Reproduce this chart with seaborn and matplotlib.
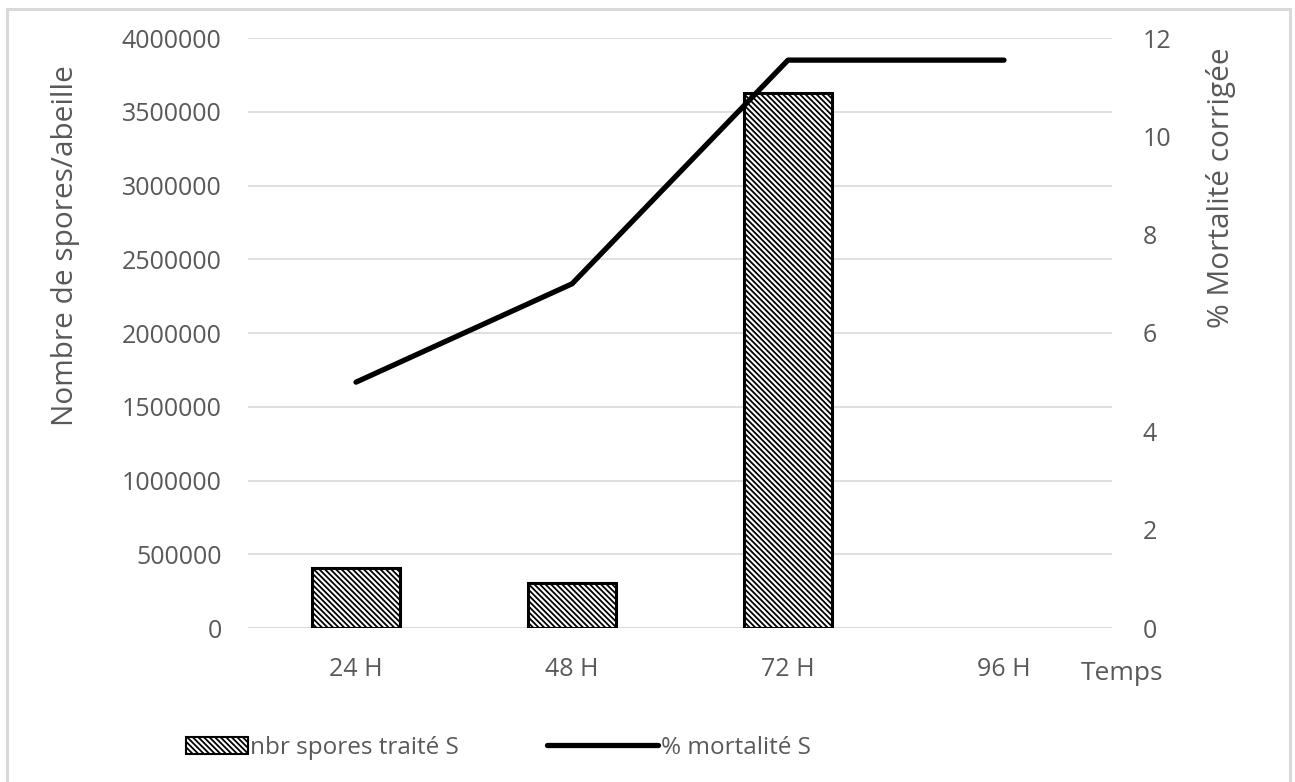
import matplotlib
matplotlib.use("Agg")
import matplotlib.pyplot as plt
import seaborn as sns
import pandas as pd
import numpy as np
from matplotlib.patches import Rectangle, Patch
from matplotlib.lines import Line2D
from matplotlib.legend_handler import HandlerPatch

categories = ["24 H", "48 H", "72 H", "96 H"]
spores = [410000, 305000, 3630000, np.nan]
mortalite = [5.0, 7.0, 11.55, 11.55]
left_ticks = [0, 500000, 1000000, 1500000, 2000000, 2500000, 3000000, 3500000, 4000000]
right_ticks = [0, 2, 4, 6, 8, 10, 12]

sns.set_theme(style="white")
plt.rcParams['font.family'] = ['Open Sans', 'DejaVu Sans']
plt.rcParams['hatch.linewidth'] = 1.3

grey = "#595959"
df = pd.DataFrame({"cat": categories, "spores": spores, "mort": mortalite})

fig = plt.figure(figsize=(12.95, 7.82), dpi=100)
ax = fig.add_axes([248/1295, 1-628/782, 864/1295, 590/782])
sns.barplot(data=df, x="cat", y="spores", ax=ax, color="white", edgecolor="black",
            linewidth=2.2, width=0.41, hatch="\\\\\\\\\\\\", zorder=3)
ax.set_ylim(0, 4000000)
ax.set_xlim(-0.5, 3.5)
ax.set_yticks(left_ticks)
ax.set_yticklabels([str(t) for t in left_ticks])
ax.yaxis.grid(True, color="#d9d9d9", linewidth=1.2, zorder=0)
ax.set_axisbelow(True)
for s in ax.spines.values():
    s.set_visible(False)
ax.axhline(0, color="#d9d9d9", linewidth=1.5, zorder=1)
ax.tick_params(axis="y", colors=grey, labelsize=18, length=0, pad=19)
ax.tick_params(axis="x", colors=grey, labelsize=18, length=0, pad=21)
ax.set_xlabel("")
ax.set_ylabel("Nombre de spores/abeille", color=grey, fontsize=21.5)
ax.yaxis.set_label_coords((80-248)/864, (628-246)/590)

ax2 = ax.twinx()
sns.lineplot(data=df, x="cat", y="mort", ax=ax2, color="black", linewidth=3.8, zorder=4)
ax2.set_ylim(0, 12)
ax2.set_yticks(right_ticks)
ax2.set_yticklabels([str(t) for t in right_ticks])
for s in ax2.spines.values():
    s.set_visible(False)
ax2.tick_params(axis="y", colors=grey, labelsize=18, length=0, pad=22)
ax2.set_ylabel("% Mortalité corrigée", color=grey, fontsize=21.5)
ax2.yaxis.set_label_coords((1206-248)/864, (628-188)/590)
ax2.set_xlabel("")
ax2.set_xlim(-0.5, 3.5)

fig.text(1122/1295, 1-673/782, "Temps", color=grey, fontsize=19, ha="center", va="center")

patch_w = 62 * 72 / 100


def narrow_patch(legend, orig_handle, xdescent, ydescent, width, height, fontsize):
    return Rectangle((width - xdescent - patch_w, -ydescent), patch_w, height)


handles = [Patch(facecolor="white", edgecolor="black", hatch="\\\\\\\\\\\\", linewidth=1.5),
           Line2D([0], [0], color="black", linewidth=3.8)]
leg = fig.legend(handles, ["nbr spores traité S", "% mortalité S"], loc="center left",
                 bbox_to_anchor=(136/1295, 1-748/782), ncol=2, frameon=False,
                 fontsize=17.5, labelcolor=grey, handlelength=4.6, handletextpad=0.1,
                 columnspacing=3.6, borderpad=0, borderaxespad=0,
                 handler_map={Patch: HandlerPatch(patch_func=narrow_patch)})

fig.patches.append(Rectangle((7/1295, -0.02), (1290-7)/1295, 1-9/782+0.02,
                             transform=fig.transFigure, fill=False,
                             edgecolor="#d9d9d9", linewidth=2.2))
fig.savefig("out.png", dpi=100)
